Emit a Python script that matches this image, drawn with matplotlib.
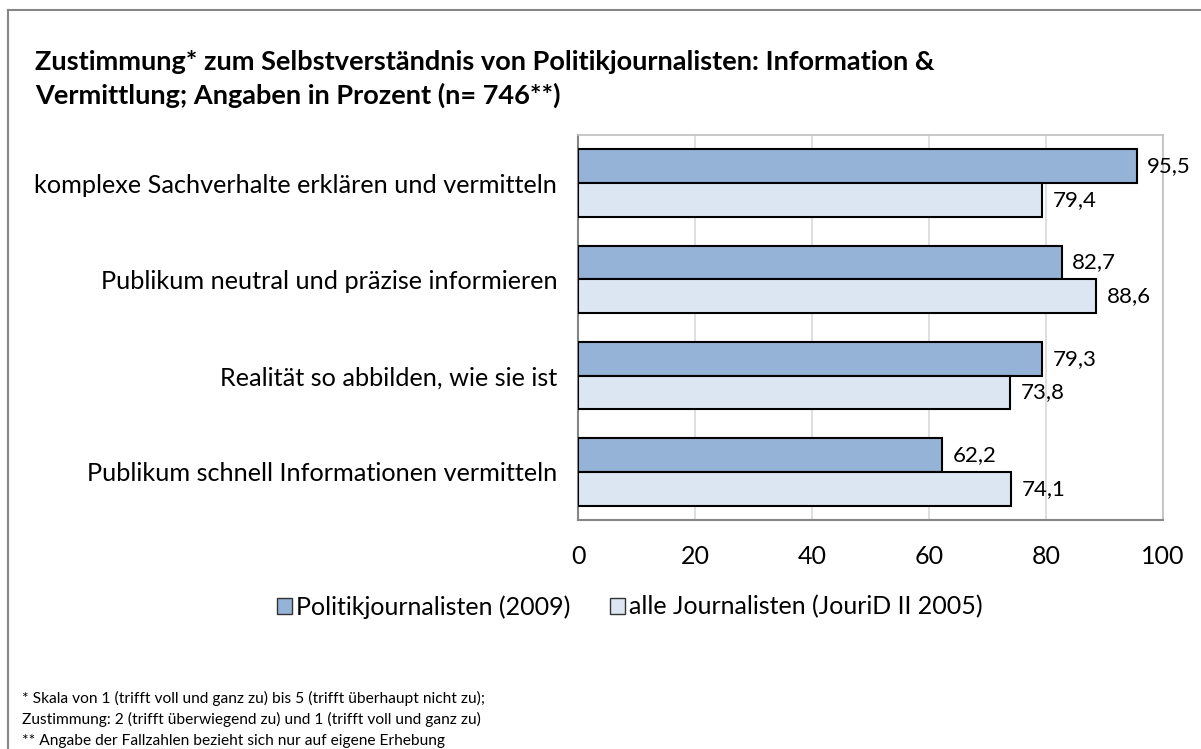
import matplotlib

matplotlib.use("Agg")
import matplotlib.pyplot as plt
import numpy as np
from matplotlib.lines import Line2D
from matplotlib.patches import Patch

plt.rcParams["font.family"] = ["Lato", "DejaVu Sans"]

categories = [
    "komplexe Sachverhalte erklären und vermitteln",
    "Publikum neutral und präzise informieren",
    "Realität so abbilden, wie sie ist",
    "Publikum schnell Informationen vermitteln",
]
politik = [95.5, 82.7, 79.3, 62.2]
alle = [79.4, 88.6, 73.8, 74.1]
series_names = ["Politikjournalisten (2009)", "alle Journalisten (JouriD II 2005)"]
x_ticks = [0, 20, 40, 60, 80, 100]

title = ("Zustimmung* zum Selbstverständnis von Politikjournalisten: Information &\n"
         "Vermittlung; Angaben in Prozent (n= 746**)")
notes = [
    "* Skala von 1 (trifft voll und ganz zu) bis 5 (trifft überhaupt nicht zu);",
    "Zustimmung: 2 (trifft überwiegend zu) und 1 (trifft voll und ganz zu)",
    "** Angabe der Fallzahlen bezieht sich nur auf eigene Erhebung",
]

c_dark = "#95B3D7"
c_light = "#DCE6F2"

W, H = 1201, 749
fig = plt.figure(figsize=(W / 100, H / 100), dpi=100)
ax = fig.add_axes([578 / W, 1 - 520 / H, (1163 - 578) / W, (520 - 135) / H])

y = np.arange(len(categories))
h = 0.35
b1 = ax.barh(y - h / 2, politik, height=h, color=c_dark, edgecolor="black", linewidth=1.5, zorder=3)
b2 = ax.barh(y + h / 2, alle, height=h, color=c_light, edgecolor="black", linewidth=1.5, zorder=3)

for bars, vals in [(b1, politik), (b2, alle)]:
    for bar, v in zip(bars, vals):
        ax.text(v + 1.8, bar.get_y() + bar.get_height() / 2, f"{v:.1f}".replace(".", ","),
                va="center", ha="left", fontsize=16, zorder=4)

ax.set_xlim(0, 100)
ax.set_ylim(len(categories) - 0.5, -0.5)
ax.set_xticks(x_ticks)
ax.set_xticklabels([str(t) for t in x_ticks], fontsize=18)
ax.set_yticks(y)
ax.set_yticklabels(categories, fontsize=18.2)
ax.tick_params(axis="both", length=0)
ax.tick_params(axis="x", pad=18)
ax.tick_params(axis="y", pad=15)
ax.grid(axis="x", color="#D9D9D9", linewidth=1.2, zorder=0)
for s in ["left", "bottom"]:
    ax.spines[s].set_color("#868686")
    ax.spines[s].set_linewidth(1.5)
for s in ["top", "right"]:
    ax.spines[s].set_color("#BFBFBF")
    ax.spines[s].set_linewidth(1.2)

handles = [Patch(facecolor=c_dark, edgecolor="#333333", linewidth=1),
           Patch(facecolor=c_light, edgecolor="#333333", linewidth=1)]
fig.legend(handles, series_names, loc="center", bbox_to_anchor=(630 / W, 1 - 607 / H),
           ncol=2, frameon=False, fontsize=18, handlelength=0.6, handleheight=0.6,
           handletextpad=0.15, columnspacing=1.6)

fig.text(35 / W, 1 - 79 / H, title, fontsize=19.5, fontweight="bold", va="center", ha="left",
         linespacing=1.4)
for i, line in enumerate(notes):
    fig.text(22 / W, 1 - (698 + i * 21.5) / H, line, fontsize=11.2, va="center", ha="left")

# outer frame of the chart (only top and left visible)
fig.add_artist(Line2D([8 / W, 1], [1 - 10 / H, 1 - 10 / H], color="#868686", linewidth=1.5))
fig.add_artist(Line2D([8 / W, 8 / W], [0, 1 - 10 / H], color="#868686", linewidth=1.5))

fig.savefig("out.png", dpi=100)
